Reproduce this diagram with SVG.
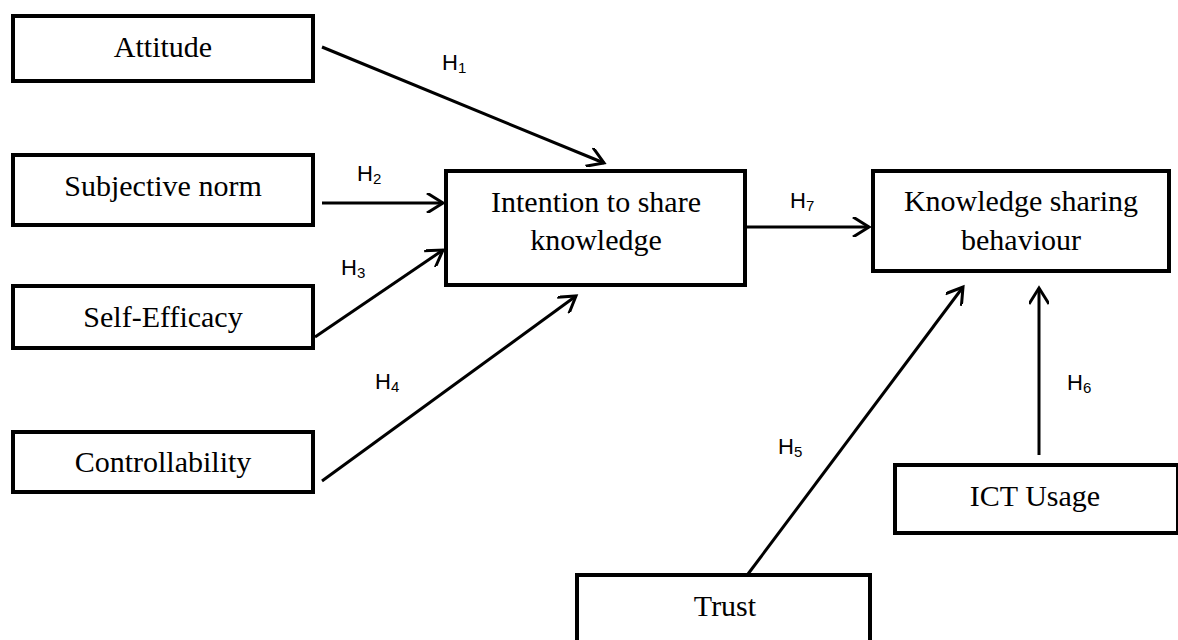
<svg xmlns="http://www.w3.org/2000/svg" width="1178" height="640" viewBox="0 0 1178 640">
<style>
.box{fill:#fff;stroke:#000;stroke-width:4}
.t{font-family:"Liberation Serif","Times New Roman",serif;font-size:30px;fill:#000;text-anchor:middle}
.lbl{font-family:"Liberation Sans",Arial,sans-serif;font-size:22px;fill:#000}
.sub{font-size:15px}
.c{stroke:#000;stroke-width:3;fill:none}
</style>
<defs>
<marker id="arr" viewBox="0 0 20 20" markerWidth="20" markerHeight="20" refX="17" refY="10" orient="auto" markerUnits="userSpaceOnUse">
<path d="M1,0 L17,10 L1,20" fill="none" stroke="#000" stroke-width="3"/>
</marker>
</defs>
<rect width="1178" height="640" fill="#fff"/>
<g id="connectors">
<line class="c" x1="322" y1="47" x2="604" y2="163" marker-end="url(#arr)"/>
<line class="c" x1="322" y1="203" x2="443" y2="203" marker-end="url(#arr)"/>
<line class="c" x1="315" y1="337" x2="443" y2="250" marker-end="url(#arr)"/>
<line class="c" x1="322" y1="481" x2="576" y2="296" marker-end="url(#arr)"/>
<line class="c" x1="747" y1="227" x2="869" y2="227" marker-end="url(#arr)"/>
<line class="c" x1="748" y1="574" x2="963" y2="287" marker-end="url(#arr)"/>
<line class="c" x1="1039" y1="455" x2="1039" y2="288" marker-end="url(#arr)"/>
<text class="lbl" x="442" y="70">H<tspan class="sub" dy="3">1</tspan></text>
<text class="lbl" x="357" y="181">H<tspan class="sub" dy="3">2</tspan></text>
<text class="lbl" x="341" y="275">H<tspan class="sub" dy="3">3</tspan></text>
<text class="lbl" x="375" y="389">H<tspan class="sub" dy="3">4</tspan></text>
<text class="lbl" x="778" y="454">H<tspan class="sub" dy="3">5</tspan></text>
<text class="lbl" x="1067" y="390">H<tspan class="sub" dy="3">6</tspan></text>
<text class="lbl" x="790" y="208">H<tspan class="sub" dy="3">7</tspan></text>
</g>
<g id="attitude"><rect class="box" x="13" y="16" width="300" height="65"/><text class="t" x="163" y="57">Attitude</text></g>
<g id="subjective-norm"><rect class="box" x="13" y="155" width="300" height="70"/><text class="t" x="163" y="196">Subjective norm</text></g>
<g id="self-efficacy"><rect class="box" x="13" y="286" width="300" height="62"/><text class="t" x="163" y="327">Self-Efficacy</text></g>
<g id="controllability"><rect class="box" x="13" y="432" width="300" height="60"/><text class="t" x="163" y="472">Controllability</text></g>
<g id="intention"><rect class="box" x="446" y="171" width="299" height="114"/><text class="t" x="596" y="212">Intention to share</text><text class="t" x="596" y="250">knowledge</text></g>
<g id="ksb"><rect class="box" x="873" y="171" width="296" height="100"/><text class="t" x="1021" y="211">Knowledge sharing</text><text class="t" x="1021" y="250">behaviour</text></g>
<g id="ict"><rect class="box" x="895" y="465" width="283" height="68"/><text class="t" x="1035" y="506">ICT Usage</text></g>
<g id="trust"><rect class="box" x="577" y="575" width="293" height="70"/><text class="t" x="725" y="616">Trust</text></g>
</svg>
